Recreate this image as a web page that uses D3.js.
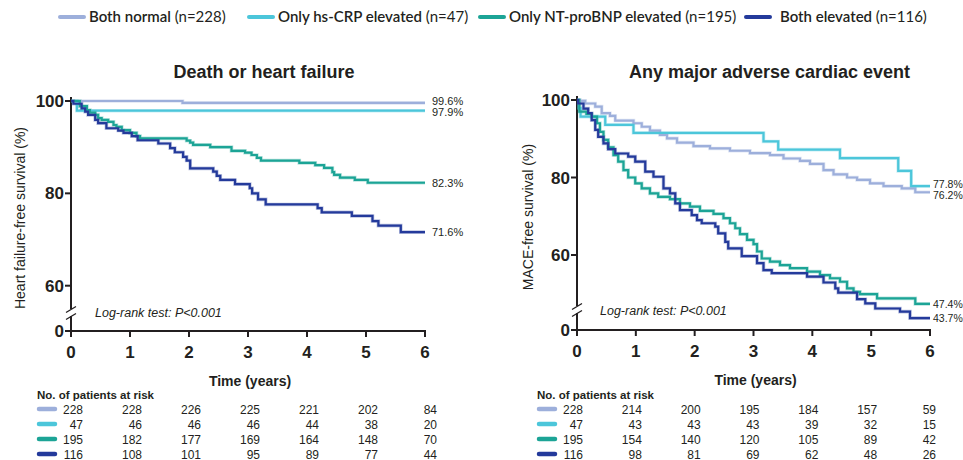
<!DOCTYPE html>
<meta charset="utf-8">
<html>
<head>
<script src="https://cdn.jsdelivr.net/npm/d3@7/dist/d3.min.js"></script>
<style>
  body { margin: 0; background: #fff; }
  svg { display: block; }
  .tick-lbl { font: bold 17px "Liberation Sans", Arial, sans-serif; fill: #231f20; }
  .title { font: bold 18px "Liberation Sans", Arial, sans-serif; fill: #231f20; }
  .ylab { font: 14px "Liberation Sans", Arial, sans-serif; fill: #231f20; }
  .xlab { font: bold 14px "Liberation Sans", Arial, sans-serif; fill: #231f20; }
  .note { font: italic 12.5px "Liberation Sans", Arial, sans-serif; fill: #231f20; }
  .end { font: 11px "Liberation Sans", Arial, sans-serif; fill: #231f20; }
  .risk { font: 12px "Liberation Sans", Arial, sans-serif; fill: #231f20; }
  .riskhead { font: bold 11.5px "Liberation Sans", Arial, sans-serif; fill: #231f20; }
  .legend { font: 15px Lato, "Noto Sans", sans-serif; fill: #231f20; }
</style>
</head>
<body>
<svg id="chart"></svg>
<script>
// ---- data ----
var groups = ["Both normal", "Only hs-CRP elevated", "Only NT-proBNP elevated", "Both elevated"];
var groupN = [228, 47, 195, 116];
var colors = ["#9dafdb", "#4cc6da", "#1ca496", "#243a9b"];
var years = [0, 1, 2, 3, 4, 5, 6];

// Death or heart failure: [time (years), survival %]
var hfNormal = [[0,100],[1.89,99.6],[6,99.6]];
var hfCrp = [[0,100],[0.1,97.9],[6,97.9]];
var hfBnp = [[0,100],[0.15,98.9],[0.27,98.05],[0.32,97.5],[0.41,97.0],[0.46,96.3],[0.52,95.9],[0.63,95.5],
  [0.72,94.8],[0.77,94.4],[0.86,93.7],[1.0,93.1],[1.11,92.4],[1.17,91.9],[1.96,91.4],[2.02,91.0],[2.07,90.5],
  [2.36,90.0],[2.72,89.2],[2.95,88.8],[3.06,88.3],[3.15,87.7],[3.22,87.1],[3.87,86.6],[4.14,86.1],[4.29,85.5],
  [4.43,84.6],[4.46,84.0],[4.56,83.4],[4.81,82.9],[5.03,82.3],[6,82.3]];
var hfBoth = [[0,100],[0.04,99.4],[0.18,98.4],[0.24,97.7],[0.29,97.0],[0.41,95.9],[0.46,95.2],[0.6,94.1],
  [0.8,93.6],[0.89,93.1],[1.03,92.4],[1.13,91.5],[1.48,90.8],[1.68,89.8],[1.76,88.9],[1.9,87.9],[1.96,87.1],
  [2.02,85.4],[2.41,84.7],[2.47,83.8],[2.53,82.9],[2.78,82.0],[3.03,81.1],[3.07,80.0],[3.17,78.7],[3.3,77.6],
  [4.18,76.8],[4.25,75.9],[4.76,75.1],[5.11,74.0],[5.21,73.0],[5.59,71.6],[6,71.6]];

// Any major adverse cardiac event
var maceNormal = [[0,100],[0.05,99.8],[0.14,99.1],[0.31,98.3],[0.42,96.6],[0.56,95.9],[0.65,94.7],[0.96,94.0],
  [1.1,93.1],[1.24,92.1],[1.41,91.0],[1.53,90.1],[1.7,89.0],[1.98,88.1],[2.26,87.5],[2.6,86.9],[2.94,86.3],
  [3.28,85.8],[3.51,84.9],[3.79,84.3],[3.96,83.5],[4.19,81.9],[4.36,80.8],[4.59,80.0],[4.76,79.4],[4.98,78.5],
  [5.21,77.8],[5.52,77.2],[5.75,76.2],[6,76.2]];
var maceCrp = [[0,100],[0.03,97.9],[0.06,95.7],[0.48,93.6],[0.96,91.5],[3.17,89.3],[3.42,87.2],[4.47,85.0],
  [5.46,81.7],[5.68,77.8],[6,77.8]];
var maceBnp = [[0,100],[0.04,97.0],[0.16,96.4],[0.25,95.7],[0.34,94.0],[0.39,91.8],[0.45,89.7],[0.53,87.8],
  [0.62,85.8],[0.7,84.1],[0.79,81.9],[0.87,80.0],[0.99,78.5],[1.1,77.2],[1.24,75.9],[1.38,75.0],[1.58,74.4],
  [1.75,73.3],[1.92,72.5],[2.09,71.4],[2.32,70.6],[2.49,69.5],[2.6,68.2],[2.69,66.9],[2.77,65.4],[2.89,63.9],
  [3.0,62.8],[3.06,60.9],[3.14,59.1],[3.28,58.3],[3.45,57.4],[3.62,56.6],[3.91,55.7],[4.13,54.8],[4.3,54.0],
  [4.47,53.1],[4.59,51.4],[4.7,50.5],[4.81,49.9],[5.1,48.8],[5.75,47.4],[6,47.4]];
var maceBoth = [[0,100],[0.02,99.1],[0.11,97.8],[0.19,96.6],[0.25,94.8],[0.31,92.3],[0.36,90.5],[0.45,88.8],
  [0.53,87.3],[0.65,86.2],[0.87,85.4],[0.99,84.1],[1.16,81.5],[1.3,80.2],[1.47,77.2],[1.58,75.9],[1.67,73.3],
  [1.75,71.6],[1.95,70.3],[2.04,69.0],[2.12,68.2],[2.35,67.3],[2.4,65.6],[2.52,63.4],[2.57,61.7],[2.8,59.7],
  [3.06,57.9],[3.17,56.1],[3.31,55.3],[3.91,54.4],[4.19,52.9],[4.39,51.4],[4.44,50.3],[4.76,48.6],[4.9,47.5],
  [5.07,46.2],[5.49,45.4],[5.66,43.7],[6,43.7]];

var hfEndLabels = ["99.6%", "97.9%", "82.3%", "71.6%"];
var maceEndLabels = ["76.2%", "77.8%", "47.4%", "43.7%"];

var hfRisk = [[228,228,226,225,221,202,84],[47,46,46,46,44,38,20],[195,182,177,169,164,148,70],[116,108,101,95,89,77,44]];
var maceRisk = [[228,214,200,195,184,157,59],[47,43,43,43,39,32,15],[195,154,140,120,105,89,42],[116,98,81,69,62,48,26]];

var yTicks = [0, 60, 80, 100];

// ---- layout ----
var width = 963, height = 460;
var svg = d3.select("#chart").attr("width", width).attr("height", height);

var panels = [
  { title: "Death or heart failure", ylab: "Heart failure-free survival (%)",
    curves: [hfNormal, hfCrp, hfBnp, hfBoth], ends: hfEndLabels, risk: hfRisk,
    x: d3.scaleLinear([0, 6], [71, 425]),
    y: d3.scaleLinear([0, 54, 100], [331, 313.4, 101]),
    brk: 313, riskX: 37, riskOff: 12, noteX: 95, noteY: 317, endOff: 7, endSize: 11, ylabX: 25 },
  { title: "Any major adverse cardiac event", ylab: "MACE-free survival (%)",
    curves: [maceNormal, maceCrp, maceBnp, maceBoth], ends: maceEndLabels, risk: maceRisk,
    x: d3.scaleLinear([0, 6], [577, 930]),
    y: d3.scaleLinear([0, 42, 100], [330, 324.75, 100]),
    brk: 310, riskX: 537, riskOff: 6, noteX: 600, noteY: 315, endOff: 3, endSize: 10.5, ylabX: 533 }
];

panels.forEach(function(p) {
  var g = svg.append("g");
  var x = p.x, y = p.y;
  var x0 = x(0), y0 = y(0);

  // title
  g.append("text").attr("class", "title")
    .attr("x", (x(0) + x(6)) / 2 + 16).attr("y", 78)
    .attr("text-anchor", "middle").text(p.title);

  // y axis line with break
  g.append("line").attr("x1", x0).attr("x2", x0)
    .attr("y1", y(100) - 4).attr("y2", p.brk - 4)
    .attr("stroke", "#231f20").attr("stroke-width", 2);
  g.append("line").attr("x1", x0).attr("x2", x0)
    .attr("y1", p.brk + 3).attr("y2", y0 + 1)
    .attr("stroke", "#231f20").attr("stroke-width", 2);
  [-3.5, 3.5].forEach(function(d) {
    g.append("line")
      .attr("x1", x0 - 5).attr("y1", p.brk + d + 3)
      .attr("x2", x0 + 5).attr("y2", p.brk + d - 3)
      .attr("stroke", "#231f20").attr("stroke-width", 1.3);
  });

  // y ticks
  yTicks.forEach(function(t) {
    g.append("line").attr("x1", x0 - 6).attr("x2", x0)
      .attr("y1", y(t)).attr("y2", y(t))
      .attr("stroke", "#231f20").attr("stroke-width", 2);
    g.append("text").attr("class", "tick-lbl")
      .attr("x", x0 - 7).attr("y", y(t) + 6)
      .attr("text-anchor", "end").text(t);
  });

  // x axis
  g.append("line").attr("x1", x0 - 1).attr("x2", x(6) + 1)
    .attr("y1", y0).attr("y2", y0)
    .attr("stroke", "#231f20").attr("stroke-width", 2);
  years.forEach(function(t) {
    g.append("line").attr("x1", x(t)).attr("x2", x(t))
      .attr("y1", y0).attr("y2", y0 + 6)
      .attr("stroke", "#231f20").attr("stroke-width", 2);
    g.append("text").attr("class", "tick-lbl")
      .attr("x", x(t)).attr("y", y0 + 27)
      .attr("text-anchor", "middle").text(t);
  });

  // axis labels
  g.append("text").attr("class", "xlab")
    .attr("x", (x(0) + x(6)) / 2 + 2).attr("y", y0 + 55)
    .attr("text-anchor", "middle").text("Time (years)");
  var ly = (y(100) + y0) / 2 + 2;
  g.append("text").attr("class", "ylab")
    .attr("transform", "translate(" + p.ylabX + "," + ly + ") rotate(-90)")
    .attr("text-anchor", "middle").text(p.ylab);

  // log-rank
  g.append("text").attr("class", "note")
    .attr("x", p.noteX).attr("y", p.noteY).text("Log-rank test: P<0.001");

  // curves
  var line = d3.line()
    .x(function(d) { return x(d[0]); })
    .y(function(d) { return y(d[1]); })
    .curve(d3.curveStepAfter);
  p.curves.forEach(function(c, i) {
    g.append("path").attr("d", line(c)).attr("fill", "none")
      .attr("stroke", colors[i]).attr("stroke-width", 3.6).attr("stroke-opacity", 0.3);
  });
  p.curves.forEach(function(c, i) {
    g.append("path").attr("d", line(c)).attr("fill", "none")
      .attr("stroke", colors[i]).attr("stroke-width", 2.2);
  });

  // end labels, nudged apart when close
  var labs = p.curves.map(function(c, i) {
    return { text: p.ends[i], y: y(c[c.length - 1][1]) };
  }).sort(function(a, b) { return a.y - b.y; });
  for (var k = 1; k < labs.length; k++) {
    var gap = labs[k].y - labs[k - 1].y;
    if (gap < 11) {
      var sh = (11 - gap) / 2;
      labs[k - 1].y -= sh; labs[k].y += sh;
    }
  }
  labs.forEach(function(l) {
    g.append("text").attr("class", "end")
      .style("font-size", p.endSize + "px")
      .attr("x", x(6) + p.endOff).attr("y", l.y + 4).text(l.text);
  });

  // risk table
  g.append("text").attr("class", "riskhead")
    .attr("x", p.riskX).attr("y", 399).text("No. of patients at risk");
  p.risk.forEach(function(row, i) {
    var ry = 409 + i * 15;
    g.append("line").attr("x1", p.riskX + 2).attr("x2", p.riskX + 18)
      .attr("y1", ry).attr("y2", ry)
      .attr("stroke", colors[i]).attr("stroke-width", 4.5).attr("stroke-linecap", "round");
    row.forEach(function(v, j) {
      g.append("text").attr("class", "risk")
        .attr("x", x(j) + p.riskOff).attr("y", ry + 4.5)
        .attr("text-anchor", "end").text(v);
    });
  });
});

// legend
var legX = [60, 249, 480, 746];
var leg = svg.append("g");
groups.forEach(function(name, i) {
  leg.append("line").attr("x1", legX[i]).attr("x2", legX[i] + 24)
    .attr("y1", 17).attr("y2", 17)
    .attr("stroke", colors[i]).attr("stroke-width", 4).attr("stroke-linecap", "round");
  var t = leg.append("text").attr("class", "legend")
    .attr("x", legX[i] + 29 + (i === 3 ? 5 : 0)).attr("y", 22);
  t.append("tspan").attr("font-weight", 600).text(name + " ");
  t.append("tspan").text("(n=" + groupN[i] + ")");
});
</script>
</body>
</html>
